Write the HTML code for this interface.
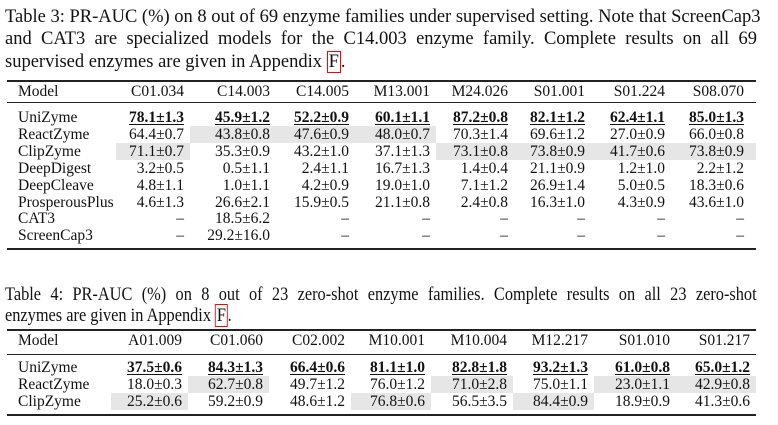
<!DOCTYPE html>
<html><head><meta charset="utf-8"><style>
body{margin:0;width:778px;height:425px;background:#fff;overflow:hidden;font-family:"Liberation Serif",serif;color:#111;position:relative}
.cap{position:absolute;left:5px;width:752px;font-size:18.5px;line-height:22px;white-space:nowrap;text-align:justify;text-align-last:justify}
.cap.last{text-align-last:left}
.cap4{font-size:19px;width:874px;transform:scaleX(0.86);transform-origin:0 0}
.box{border:1.5px solid #f00;padding:0 1px}
.rule{position:absolute;left:7px;width:749px;background:#222}
.c{position:absolute;font-size:15.5px;line-height:17px;white-space:nowrap;transform:translateX(-100%)}
.m{position:absolute;font-size:15.5px;line-height:17px;white-space:nowrap}
.b{font-weight:bold;text-decoration:underline;text-underline-offset:2px}
.sh{position:absolute;background:#e6e6e6}
</style></head><body>
<div class="cap" style="top:6px">Table 3: PR-AUC (%) on 8 out of 69 enzyme families under supervised setting. Note that ScreenCap3</div>
<div class="cap" style="top:28px">and CAT3 are specialized models for the C14.003 enzyme family. Complete results on all 69</div>
<div class="cap last" style="top:51px">supervised enzymes are given in Appendix <span class="box">F</span>.</div>
<div class="cap cap4" style="top:284px">Table 4: PR-AUC (%) on 8 out of 23 zero-shot enzyme families. Complete results on all 23 zero-shot</div>
<div class="cap cap4 last" style="top:305px">enzymes are given in Appendix <span class="box">F</span>.</div>
<div id="root"></div>
<script>
const t3Cols=["C01.034","C14.003","C14.005","M13.001","M24.026","S01.001","S01.224","S08.070"];
const t3Models=["UniZyme","ReactZyme","ClipZyme","DeepDigest","DeepCleave","ProsperousPlus","CAT3","ScreenCap3"];
const t3Vals=[
["78.1±1.3","45.9±1.2","52.2±0.9","60.1±1.1","87.2±0.8","82.1±1.2","62.4±1.1","85.0±1.3"],
["64.4±0.7","43.8±0.8","47.6±0.9","48.0±0.7","70.3±1.4","69.6±1.2","27.0±0.9","66.0±0.8"],
["71.1±0.7","35.3±0.9","43.2±1.0","37.1±1.3","73.1±0.8","73.8±0.9","41.7±0.6","73.8±0.9"],
["3.2±0.5","0.5±1.1","2.4±1.1","16.7±1.3","1.4±0.4","21.1±0.9","1.2±1.0","2.2±1.2"],
["4.8±1.1","1.0±1.1","4.2±0.9","19.0±1.0","7.1±1.2","26.9±1.4","5.0±0.5","18.3±0.6"],
["4.6±1.3","26.6±2.1","15.9±0.5","21.1±0.8","2.4±0.8","16.3±1.0","4.3±0.9","43.6±1.0"],
["–","18.5±6.2","–","–","–","–","–","–"],
["–","29.2±16.0","–","–","–","–","–","–"]];
const t3Shade=[[1,1],[1,2],[1,3],[2,0],[2,4],[2,5],[2,6],[2,7]];
const t4Cols=["A01.009","C01.060","C02.002","M10.001","M10.004","M12.217","S01.010","S01.217"];
const t4Models=["UniZyme","ReactZyme","ClipZyme"];
const t4Vals=[
["37.5±0.6","84.3±1.3","66.4±0.6","81.1±1.0","82.8±1.8","93.2±1.3","61.0±0.8","65.0±1.2"],
["18.0±0.3","62.7±0.8","49.7±1.2","76.0±1.2","71.0±2.8","75.0±1.1","23.0±1.1","42.9±0.8"],
["25.2±0.6","59.2±0.9","48.6±1.2","76.8±0.6","56.5±3.5","84.4±0.9","18.9±0.9","41.3±0.6"]];
const t4Shade=[[1,1],[1,4],[1,6],[1,7],[2,0],[2,3],[2,5]];
const root=document.getElementById('root');
function add(cls,x,y,txt){const d=document.createElement('div');d.className=cls;d.style.left=x+'px';d.style.top=y+'px';d.textContent=txt;root.appendChild(d);return d;}
function rule(y,h){const d=document.createElement('div');d.className='rule';d.style.top=y+'px';d.style.height=h+'px';


root.appendChild(d);}
function table(cols,models,vals,shade,rights,opt){
  const rowY=i=>opt.r0+i*opt.rh;
  shade.forEach(([r,c])=>{const s=document.createElement('div');s.className='sh';
    const l=c===0?opt.sl0:rights[c-1]+opt.gap, rr=c===cols.length-1?756:rights[c]+opt.gap;
    s.style.left=l+'px';s.style.width=(rr-l)+'px';s.style.top=(rowY(r)-8)+'px';s.style.height=opt.rh+'px';
    
    
    root.appendChild(s);});
  rule(opt.top,2);rule(opt.mid,1);rule(opt.bot,2);
  const h=add('m',18,opt.hy-8,'Model');
  
  
  cols.forEach((c,i)=>{const d=add('c',rights[i],opt.hy-8,c);
    
    });
  models.forEach((m,r)=>{const d=add('m',18,rowY(r)-8,m);
    
    
    vals[r].forEach((v,c)=>{const e=add('c'+(r===0?' b':''),rights[c],rowY(r)-8,v);
      
      });});
}
table(t3Cols,t3Models,t3Vals,t3Shade,[184,270,349,430,508,585,665,744],
 {top:80,mid:102,bot:248,hy:91,r0:117,rh:16.9,sl0:116,gap:6});
table(t4Cols,t4Models,t4Vals,t4Shade,[182,263,345,425,507,588,670,750],
 {top:329,mid:354,bot:414,hy:340,r0:367,rh:17,sl0:111,gap:6});
</script>
</body></html>
